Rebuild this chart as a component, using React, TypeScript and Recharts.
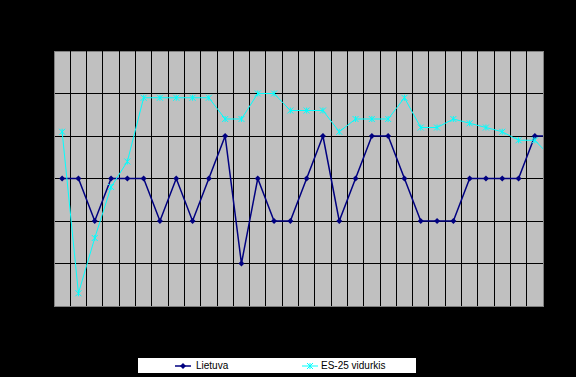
import { CartesianGrid, Line, LineChart, ReferenceArea, ReferenceLine, XAxis, YAxis } from 'recharts';
import { ReactElement } from 'react';

// one value per category slot; the last one falls just past the plot edge and gets clipped
const blueValues = [3, 3, 2, 3, 3, 3, 2, 3, 2, 3, 4, 1, 3, 2, 2, 3, 4, 2, 3, 4, 4, 3, 2, 2, 2, 3, 3, 3, 3, 4, 4];
const cyanValues = [4.1, 0.3, 1.6, 2.8, 3.4, 4.9, 4.9, 4.9, 4.9, 4.9, 4.4, 4.4, 5.0, 5.0, 4.6, 4.6, 4.6, 4.1, 4.4, 4.4, 4.4, 4.9, 4.2, 4.2, 4.4, 4.3, 4.2, 4.1, 3.9, 3.9, 3.5];
const seriesNames = ['Lietuva', 'ES-25 vidurkis'];
const yTicks = [0, 1, 2, 3, 4, 5, 6];
const slotCount = 30;

const data = blueValues.map((v, i) => ({ pos: i + 0.5, blue: v, cyan: cyanValues[i] }));

const slotEdges = Array.from({ length: slotCount - 1 }, (_, i) => i + 1);
const gridY = yTicks.slice(0, -1);

const BLUE = '#000080';
const CYAN = '#00ffff';

const diamondDot = (props: any) => {
  const { cx, cy, index } = props;
  if (cx == null || cy == null) return <g key={index} />;
  return <path key={index} d={`M${cx},${cy - 3}L${cx + 3},${cy}L${cx},${cy + 3}L${cx - 3},${cy}Z`} fill={BLUE} />;
};

const starDot = (props: any) => {
  const { cx, cy, index } = props;
  if (cx == null || cy == null) return <g key={index} />;
  return (
    <path
      key={index}
      d={`M${cx - 3},${cy - 3}L${cx + 3},${cy + 3}M${cx - 3},${cy + 3}L${cx + 3},${cy - 3}M${cx},${cy - 3}L${cx},${cy + 3}`}
      stroke={CYAN}
      strokeWidth={1}
      fill="none"
    />
  );
};

const yTick = (props: any) => (
  <text x={props.x + 6} y={props.y} dy={4} textAnchor="end" fill="#000" fontSize={11} fontFamily="Arial">
    {props.payload.value}
  </text>
);

export default function App(): ReactElement {
  return (
    <div style={{ position: 'absolute', left: 0, top: 0, width: 576, height: 377, background: '#000' }}>
      <LineChart width={576} height={377} data={data} margin={{ top: 51, right: 33, bottom: 71, left: 54 }}>
        <CartesianGrid
          fill="#c0c0c0"
          fillOpacity={1}
          stroke="#000"
          strokeWidth={1}
          vertical={false}
          horizontalValues={gridY}
          shapeRendering="crispEdges"
        />
        {slotEdges.map((x) => (
          <ReferenceLine key={x} x={x} stroke="#000" strokeWidth={1} shapeRendering="crispEdges" />
        ))}
        <ReferenceArea x1={0} x2={slotCount} y1={0} y2={6} fill="none" stroke="#808080" strokeWidth={1} shapeRendering="crispEdges" />
        <XAxis
          dataKey="pos"
          type="number"
          domain={[0, slotCount]}
          allowDataOverflow
          height={0}
          tick={false}
          axisLine={false}
          tickLine={false}
        />
        <YAxis domain={[0, 6]} ticks={yTicks} width={0} axisLine={false} tickLine={false} tick={yTick} />
        <Line
          dataKey="blue"
          stroke={BLUE}
          strokeWidth={1.5}
          dot={diamondDot}
          activeDot={false}
          isAnimationActive={false}
        />
        <Line
          dataKey="cyan"
          stroke={CYAN}
          strokeWidth={1}
          dot={starDot}
          activeDot={false}
          isAnimationActive={false}
        />
      </LineChart>
      <div
        style={{
          position: 'absolute', left: 138, top: 358, width: 278, height: 15, background: '#fff',
          fontFamily: 'Arial', fontSize: 10, color: '#000', display: 'flex', alignItems: 'center',
        }}
      >
        <svg width={16} height={8} style={{ marginLeft: 37 }}>
          <line x1={0} y1={4} x2={16} y2={4} stroke={BLUE} strokeWidth={1.5} />
          <path d="M8,1L11,4L8,7L5,4Z" fill={BLUE} />
        </svg>
        <span style={{ marginLeft: 5, width: 106 }}>{seriesNames[0]}</span>
        <svg width={16} height={8}>
          <line x1={0} y1={4} x2={16} y2={4} stroke={CYAN} strokeWidth={1} />
          <path d="M5,1L11,7M5,7L11,1M8,1L8,7" stroke={CYAN} fill="none" />
        </svg>
        <span style={{ marginLeft: 3 }}>{seriesNames[1]}</span>
      </div>
    </div>
  );
}
